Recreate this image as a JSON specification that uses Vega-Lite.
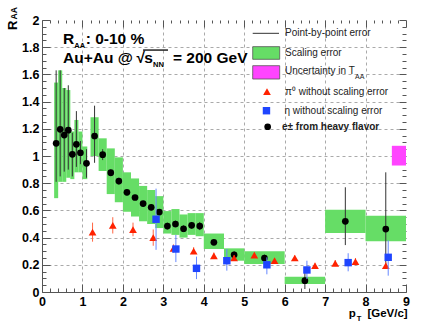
{
  "$schema": "https://vega.github.io/schema/vega-lite/v6.json",
  "width": 364,
  "height": 272,
  "autosize": {"type": "none"},
  "padding": {"left": 42, "top": 20, "right": 18, "bottom": 36},
  "background": "white",
  "config": {
    "font": "Liberation Sans",
    "view": {"stroke": null},
    "axis": {
      "labelFont": "Liberation Sans",
      "labelFontWeight": "bold",
      "labelFontSize": 12.5,
      "labelColor": "#000000",
      "domainColor": "#555555",
      "tickColor": "#555555",
      "gridColor": "#aaaaaa",
      "gridDash": [3, 3],
      "labelFlush": false,
      "labelOverlap": false,
      "labelBound": false
    }
  },
  "datasets": {
    "hf": [
      {"pt": 0.35, "raa": 1.093, "lo": 0.81, "hi": 1.63, "x0": 0.3, "x1": 0.4, "blo": 0.69, "bhi": 1.54},
      {"pt": 0.45, "raa": 1.196, "lo": 0.85, "hi": 1.63, "x0": 0.4, "x1": 0.5, "blo": 0.81, "bhi": 1.63},
      {"pt": 0.55, "raa": 1.154, "lo": 0.885, "hi": 1.5, "x0": 0.5, "x1": 0.6, "blo": 0.81, "bhi": 1.5},
      {"pt": 0.65, "raa": 1.19, "lo": 0.9, "hi": 1.52, "x0": 0.6, "x1": 0.7, "blo": 0.84, "bhi": 1.485},
      {"pt": 0.75, "raa": 1.012, "lo": 0.85, "hi": 1.17, "x0": 0.7, "x1": 0.8, "blo": 0.83, "bhi": 1.18},
      {"pt": 0.85, "raa": 1.086, "lo": 0.92, "hi": 1.33, "x0": 0.8, "x1": 0.9, "blo": 0.88, "bhi": 1.265},
      {"pt": 0.95, "raa": 1.024, "lo": 0.94, "hi": 1.11, "x0": 0.9, "x1": 1.0, "blo": 0.88, "bhi": 1.18},
      {"pt": 1.1, "raa": 0.946, "lo": 0.84, "hi": 1.05, "x0": 1.0, "x1": 1.12, "blo": 0.83, "bhi": 1.07},
      {"pt": 1.3, "raa": 1.147, "lo": 0.95, "hi": 1.37, "x0": 1.2, "x1": 1.4, "blo": 1.0, "bhi": 1.285},
      {"pt": 1.5, "raa": 1.01, "lo": 0.97, "hi": 1.05, "x0": 1.4, "x1": 1.6, "blo": 0.89, "bhi": 1.13},
      {"pt": 1.7, "raa": 0.877, "lo": 0.85, "hi": 0.9, "x0": 1.6, "x1": 1.8, "blo": 0.72, "bhi": 1.056},
      {"pt": 1.9, "raa": 0.816, "lo": 0.79, "hi": 0.84, "x0": 1.8, "x1": 2.0, "blo": 0.66, "bhi": 0.99},
      {"pt": 2.1, "raa": 0.733, "lo": 0.71, "hi": 0.755, "x0": 2.0, "x1": 2.2, "blo": 0.59, "bhi": 0.88},
      {"pt": 2.3, "raa": 0.695, "lo": 0.675, "hi": 0.715, "x0": 2.2, "x1": 2.4, "blo": 0.555, "bhi": 0.835},
      {"pt": 2.5, "raa": 0.65, "lo": 0.63, "hi": 0.67, "x0": 2.4, "x1": 2.6, "blo": 0.52, "bhi": 0.78},
      {"pt": 2.7, "raa": 0.623, "lo": 0.6, "hi": 0.645, "x0": 2.6, "x1": 2.8, "blo": 0.5, "bhi": 0.75},
      {"pt": 2.9, "raa": 0.588, "lo": 0.565, "hi": 0.61, "x0": 2.8, "x1": 3.0, "blo": 0.47, "bhi": 0.705},
      {"pt": 3.1, "raa": 0.485, "lo": 0.46, "hi": 0.51, "x0": 3.0, "x1": 3.2, "blo": 0.43, "bhi": 0.595},
      {"pt": 3.3, "raa": 0.5, "lo": 0.475, "hi": 0.525, "x0": 3.2, "x1": 3.4, "blo": 0.42, "bhi": 0.61},
      {"pt": 3.5, "raa": 0.465, "lo": 0.44, "hi": 0.49, "x0": 3.4, "x1": 3.6, "blo": 0.4, "bhi": 0.57},
      {"pt": 3.7, "raa": 0.49, "lo": 0.465, "hi": 0.515, "x0": 3.6, "x1": 3.8, "blo": 0.42, "bhi": 0.58},
      {"pt": 3.9, "raa": 0.485, "lo": 0.455, "hi": 0.515, "x0": 3.8, "x1": 4.0, "blo": 0.41, "bhi": 0.58},
      {"pt": 4.25, "raa": 0.365, "lo": 0.345, "hi": 0.385, "x0": 4.0, "x1": 4.5, "blo": 0.316, "bhi": 0.43},
      {"pt": 4.75, "raa": 0.274, "lo": 0.25, "hi": 0.3, "x0": 4.5, "x1": 5.0, "blo": 0.23, "bhi": 0.321},
      {"pt": 5.5, "raa": 0.25, "lo": 0.225, "hi": 0.275, "x0": 5.0, "x1": 6.0, "blo": 0.206, "bhi": 0.3},
      {"pt": 6.5, "raa": 0.083, "lo": 0.022, "hi": 0.169, "x0": 6.0, "x1": 7.0, "blo": 0.059, "bhi": 0.113},
      {"pt": 7.5, "raa": 0.52, "lo": 0.345, "hi": 0.77, "x0": 7.0, "x1": 8.0, "blo": 0.434, "bhi": 0.605},
      {"pt": 8.5, "raa": 0.463, "lo": 0.18, "hi": 0.88, "x0": 8.0, "x1": 9.0, "blo": 0.373, "bhi": 0.561}
    ],
    "pi0": [
      {"pt": 1.25, "raa": 0.44, "lo": 0.37, "hi": 0.51},
      {"pt": 1.75, "raa": 0.49, "lo": 0.43, "hi": 0.55},
      {"pt": 2.25, "raa": 0.458, "lo": 0.41, "hi": 0.51},
      {"pt": 2.75, "raa": 0.4, "lo": 0.34, "hi": 0.46},
      {"pt": 3.25, "raa": 0.32, "lo": 0.29, "hi": 0.35},
      {"pt": 3.75, "raa": 0.3, "lo": 0.28, "hi": 0.33},
      {"pt": 4.25, "raa": 0.266, "lo": 0.245, "hi": 0.29},
      {"pt": 4.75, "raa": 0.25, "lo": 0.23, "hi": 0.27},
      {"pt": 5.25, "raa": 0.271, "lo": 0.25, "hi": 0.29},
      {"pt": 5.75, "raa": 0.23, "lo": 0.21, "hi": 0.25},
      {"pt": 6.25, "raa": 0.25, "lo": 0.23, "hi": 0.27},
      {"pt": 6.75, "raa": 0.193, "lo": 0.17, "hi": 0.215},
      {"pt": 7.25, "raa": 0.211, "lo": 0.19, "hi": 0.235},
      {"pt": 7.75, "raa": 0.223, "lo": 0.195, "hi": 0.25},
      {"pt": 8.5, "raa": 0.193, "lo": 0.17, "hi": 0.22}
    ],
    "eta": [
      {"pt": 2.82, "raa": 0.535, "lo": 0.31, "hi": 0.76},
      {"pt": 3.31, "raa": 0.316, "lo": 0.22, "hi": 0.42},
      {"pt": 3.82, "raa": 0.174, "lo": 0.095, "hi": 0.26},
      {"pt": 4.57, "raa": 0.23, "lo": 0.157, "hi": 0.316},
      {"pt": 5.56, "raa": 0.2, "lo": 0.13, "hi": 0.255},
      {"pt": 6.55, "raa": 0.162, "lo": 0.095, "hi": 0.23},
      {"pt": 7.57, "raa": 0.216, "lo": 0.152, "hi": 0.285},
      {"pt": 8.56, "raa": 0.255, "lo": 0.12, "hi": 0.38}
    ]
  },
  "layer": [
    {
      "data": {"name": "hf"},
      "mark": {"type": "rect", "color": "#66dd66"},
      "encoding": {
        "x": {"field": "x0", "type": "quantitative", "scale": {"domain": [0, 9]},
          "axis": {
            "orient": "bottom", "title": null,
            "values": [0,0.2,0.4,0.6,0.8,1,1.2,1.4,1.6,1.8,2,2.2,2.4,2.6,2.8,3,3.2,3.4,3.6,3.8,4,4.2,4.4,4.6,4.8,5,5.2,5.4,5.6,5.8,6,6.2,6.4,6.6,6.8,7,7.2,7.4,7.6,7.8,8,8.2,8.4,8.6,8.8,9],
            "tickSize": {"condition": {"test": "abs(datum.value - round(datum.value)) < 0.001", "value": -8}, "value": -4},
            "labelPadding": 11,
            "labelExpr": "abs(datum.value - round(datum.value)) < 0.001 ? format(datum.value, 'd') : ''",
            "grid": true,
            "gridOpacity": {"condition": {"test": "abs(datum.value - round(datum.value)) < 0.001 && datum.value > 0.5 && datum.value < 8.5", "value": 1}, "value": 0}
          }
        },
        "x2": {"field": "x1"},
        "y": {"field": "blo", "type": "quantitative", "scale": {"domain": [0, 2]},
          "axis": {
            "orient": "left", "title": null,
            "values": [0,0.05,0.1,0.15,0.2,0.25,0.3,0.35,0.4,0.45,0.5,0.55,0.6,0.65,0.7,0.75,0.8,0.85,0.9,0.95,1,1.05,1.1,1.15,1.2,1.25,1.3,1.35,1.4,1.45,1.5,1.55,1.6,1.65,1.7,1.75,1.8,1.85,1.9,1.95,2],
            "tickSize": {"condition": {"test": "abs(datum.value * 5 - round(datum.value * 5)) < 0.001", "value": -8}, "value": -4},
            "labelPadding": 11,
            "labelExpr": "abs(datum.value * 5 - round(datum.value * 5)) < 0.001 ? format(datum.value, '~g') : ''",
            "grid": true,
            "gridOpacity": {"condition": {"test": "abs(datum.value * 5 - round(datum.value * 5)) < 0.001 && datum.value > 0.1 && datum.value < 1.9", "value": 1}, "value": 0}
          }
        },
        "y2": {"field": "bhi"}
      }
    },
    {
      "data": {"values": [{"x0": 8.65, "x1": 9.0, "y0": 0.93, "y1": 1.075}]},
      "mark": {"type": "rect", "color": "#ff44ff"},
      "encoding": {
        "x": {"field": "x0", "type": "quantitative", "scale": {"domain": [0, 9]},
          "axis": {
            "orient": "top", "title": null, "labels": false, "domain": false, "grid": false,
            "values": [0,0.2,0.4,0.6,0.8,1,1.2,1.4,1.6,1.8,2,2.2,2.4,2.6,2.8,3,3.2,3.4,3.6,3.8,4,4.2,4.4,4.6,4.8,5,5.2,5.4,5.6,5.8,6,6.2,6.4,6.6,6.8,7,7.2,7.4,7.6,7.8,8,8.2,8.4,8.6,8.8,9],
            "tickSize": {"condition": {"test": "abs(datum.value - round(datum.value)) < 0.001", "value": -7}, "value": -3}
          }
        },
        "x2": {"field": "x1"},
        "y": {"field": "y0", "type": "quantitative", "scale": {"domain": [0, 2]},
          "axis": {
            "orient": "right", "title": null, "labels": false, "domain": false, "grid": false,
            "values": [0,0.05,0.1,0.15,0.2,0.25,0.3,0.35,0.4,0.45,0.5,0.55,0.6,0.65,0.7,0.75,0.8,0.85,0.9,0.95,1,1.05,1.1,1.15,1.2,1.25,1.3,1.35,1.4,1.45,1.5,1.55,1.6,1.65,1.7,1.75,1.8,1.85,1.9,1.95,2],
            "tickSize": {"condition": {"test": "abs(datum.value * 5 - round(datum.value * 5)) < 0.001", "value": -7}, "value": -4}
          }
        },
        "y2": {"field": "y1"}
      }
    },
    {
      "data": {"values": [
        {"item": "Scaling error", "x0": 5.21, "x1": 5.877, "y0": 1.711, "y1": 1.804},
        {"item": "Uncertainty in TAA", "x0": 5.21, "x1": 5.877, "y0": 1.566, "y1": 1.664}
      ]},
      "mark": {"type": "rect", "stroke": "#555555", "strokeWidth": 0.8},
      "encoding": {
        "x": {"field": "x0", "type": "quantitative", "scale": {"domain": [0, 9]}, "axis": null},
        "x2": {"field": "x1"},
        "y": {"field": "y0", "type": "quantitative", "scale": {"domain": [0, 2]}, "axis": null},
        "y2": {"field": "y1"},
        "fill": {"field": "item", "type": "nominal", "scale": {"domain": ["Scaling error", "Uncertainty in TAA"], "range": ["#66dd66", "#ff44ff"]}, "legend": null}
      }
    },
    {
      "data": {"name": "hf"},
      "mark": {"type": "rule", "color": "#333333", "strokeWidth": 1},
      "encoding": {
        "x": {"field": "pt", "type": "quantitative", "scale": {"domain": [0, 9]}, "axis": null},
        "y": {"field": "lo", "type": "quantitative", "scale": {"domain": [0, 2]}, "axis": null},
        "y2": {"field": "hi"}
      }
    },
    {
      "data": {"name": "hf"},
      "mark": {"type": "point", "shape": "circle", "filled": true, "color": "#000000", "size": 45, "opacity": 1},
      "encoding": {
        "x": {"field": "pt", "type": "quantitative", "scale": {"domain": [0, 9]}, "axis": null},
        "y": {"field": "raa", "type": "quantitative", "scale": {"domain": [0, 2]}, "axis": null}
      }
    },
    {
      "data": {"name": "pi0"},
      "mark": {"type": "rule", "color": "#ff6644", "strokeWidth": 1},
      "encoding": {
        "x": {"field": "pt", "type": "quantitative", "scale": {"domain": [0, 9]}, "axis": null},
        "y": {"field": "lo", "type": "quantitative", "scale": {"domain": [0, 2]}, "axis": null},
        "y2": {"field": "hi"}
      }
    },
    {
      "data": {"name": "pi0"},
      "mark": {"type": "point", "shape": "triangle-up", "filled": true, "color": "#ff2200", "size": 60, "opacity": 1},
      "encoding": {
        "x": {"field": "pt", "type": "quantitative", "scale": {"domain": [0, 9]}, "axis": null},
        "y": {"field": "raa", "type": "quantitative", "scale": {"domain": [0, 2]}, "axis": null}
      }
    },
    {
      "data": {"name": "eta"},
      "mark": {"type": "rule", "color": "#6688ff", "strokeWidth": 1},
      "encoding": {
        "x": {"field": "pt", "type": "quantitative", "scale": {"domain": [0, 9]}, "axis": null},
        "y": {"field": "lo", "type": "quantitative", "scale": {"domain": [0, 2]}, "axis": null},
        "y2": {"field": "hi"}
      }
    },
    {
      "data": {"name": "eta"},
      "mark": {"type": "point", "shape": "square", "filled": true, "color": "#1f45ff", "size": 55, "opacity": 1},
      "encoding": {
        "x": {"field": "pt", "type": "quantitative", "scale": {"domain": [0, 9]}, "axis": null},
        "y": {"field": "raa", "type": "quantitative", "scale": {"domain": [0, 2]}, "axis": null}
      }
    },
    {
      "data": {"values": [{"x0": 5.21, "x1": 5.86, "y": 1.902}]},
      "mark": {"type": "rule", "color": "#333333", "strokeWidth": 1},
      "encoding": {
        "x": {"field": "x0", "type": "quantitative", "scale": {"domain": [0, 9]}, "axis": null},
        "x2": {"field": "x1"},
        "y": {"field": "y", "type": "quantitative", "scale": {"domain": [0, 2]}, "axis": null}
      }
    },
    {
      "data": {"values": [{"x": 5.563, "y": 1.473}]},
      "mark": {"type": "point", "shape": "triangle-up", "filled": true, "color": "#ff2200", "size": 60, "opacity": 1},
      "encoding": {
        "x": {"field": "x", "type": "quantitative", "scale": {"domain": [0, 9]}, "axis": null},
        "y": {"field": "y", "type": "quantitative", "scale": {"domain": [0, 2]}, "axis": null}
      }
    },
    {
      "data": {"values": [{"x": 5.55, "y": 1.333}]},
      "mark": {"type": "point", "shape": "square", "filled": true, "color": "#1f45ff", "size": 55, "opacity": 1},
      "encoding": {
        "x": {"field": "x", "type": "quantitative", "scale": {"domain": [0, 9]}, "axis": null},
        "y": {"field": "y", "type": "quantitative", "scale": {"domain": [0, 2]}, "axis": null}
      }
    },
    {
      "data": {"values": [{"x": 5.58, "y": 1.215}]},
      "mark": {"type": "point", "shape": "circle", "filled": true, "color": "#000000", "size": 45, "opacity": 1},
      "encoding": {
        "x": {"field": "x", "type": "quantitative", "scale": {"domain": [0, 9]}, "axis": null},
        "y": {"field": "y", "type": "quantitative", "scale": {"domain": [0, 2]}, "axis": null}
      }
    },
    {
      "data": {"values": [
        {"x": 6.008, "y": 1.902, "t": "Point-by-point error"},
        {"x": 6.008, "y": 1.76, "t": "Scaling error"},
        {"x": 6.008, "y": 1.627, "t": "Uncertainty in T"},
        {"x": 6.008, "y": 1.473, "t": "π⁰ without scaling error"},
        {"x": 5.995, "y": 1.333, "t": "η without scaling error"}
      ]},
      "mark": {"type": "text", "font": "Liberation Sans", "fontSize": 10, "align": "left", "baseline": "middle", "color": "#222222"},
      "encoding": {
        "x": {"field": "x", "type": "quantitative", "scale": {"domain": [0, 9]}, "axis": null},
        "y": {"field": "y", "type": "quantitative", "scale": {"domain": [0, 2]}, "axis": null},
        "text": {"field": "t"}
      }
    },
    {
      "data": {"values": [{"x": 5.934, "y": 1.215, "t": "e± from heavy flavor"}]},
      "mark": {"type": "text", "font": "Liberation Sans", "fontSize": 10, "fontWeight": "bold", "align": "left", "baseline": "middle", "color": "#222222"},
      "encoding": {
        "x": {"field": "x", "type": "quantitative", "scale": {"domain": [0, 9]}, "axis": null},
        "y": {"field": "y", "type": "quantitative", "scale": {"domain": [0, 2]}, "axis": null},
        "text": {"field": "t"}
      }
    },
    {
      "data": {"values": [{"x": 7.739, "y": 1.579, "t": "AA"}]},
      "mark": {"type": "text", "font": "Liberation Sans", "fontSize": 7, "align": "left", "baseline": "middle", "color": "#222222"},
      "encoding": {
        "x": {"field": "x", "type": "quantitative", "scale": {"domain": [0, 9]}, "axis": null},
        "y": {"field": "y", "type": "quantitative", "scale": {"domain": [0, 2]}, "axis": null},
        "text": {"field": "t"}
      }
    },
    {
      "data": {"values": [
        {"x": 0.519, "y": 1.821, "t": "R"},
        {"x": 1.08, "y": 1.821, "t": ": 0-10 %"},
        {"x": 0.519, "y": 1.682, "t": "Au+Au @"},
        {"x": 2.335, "y": 1.682, "t": "√"},
        {"x": 2.53, "y": 1.682, "t": "s"},
        {"x": 3.239, "y": 1.682, "t": "= 200 GeV"}
      ]},
      "mark": {"type": "text", "font": "Liberation Sans", "fontSize": 15.5, "fontWeight": "bold", "align": "left", "baseline": "alphabetic", "color": "#000000"},
      "encoding": {
        "x": {"field": "x", "type": "quantitative", "scale": {"domain": [0, 9]}, "axis": null},
        "y": {"field": "y", "type": "quantitative", "scale": {"domain": [0, 2]}, "axis": null},
        "text": {"field": "t"}
      }
    },
    {
      "data": {"values": [
        {"x": 0.8, "y": 1.796, "t": "AA"},
        {"x": 2.745, "y": 1.654, "t": "NN"}
      ]},
      "mark": {"type": "text", "font": "Liberation Sans", "fontSize": 7.5, "fontWeight": "bold", "align": "left", "baseline": "alphabetic", "color": "#000000"},
      "encoding": {
        "x": {"field": "x", "type": "quantitative", "scale": {"domain": [0, 9]}, "axis": null},
        "y": {"field": "y", "type": "quantitative", "scale": {"domain": [0, 2]}, "axis": null},
        "text": {"field": "t"}
      }
    },
    {
      "data": {"values": [{"x0": 2.5, "x1": 3.115, "y": 1.779}]},
      "mark": {"type": "rule", "color": "#000000", "strokeWidth": 1.3},
      "encoding": {
        "x": {"field": "x0", "type": "quantitative", "scale": {"domain": [0, 9]}, "axis": null},
        "x2": {"field": "x1"},
        "y": {"field": "y", "type": "quantitative", "scale": {"domain": [0, 2]}, "axis": null}
      }
    },
    {
      "data": {"values": [
        {"x": 7.584, "y": -0.182, "t": "p"},
        {"x": 8.045, "y": -0.182, "t": "[GeV/c]"}
      ]},
      "mark": {"type": "text", "font": "Liberation Sans", "fontSize": 11.5, "fontWeight": "bold", "align": "left", "baseline": "alphabetic", "color": "#000000"},
      "encoding": {
        "x": {"field": "x", "type": "quantitative", "scale": {"domain": [0, 9]}, "axis": null},
        "y": {"field": "y", "type": "quantitative", "scale": {"domain": [0, 2]}, "axis": null},
        "text": {"field": "t"}
      }
    },
    {
      "data": {"values": [{"x": 7.78, "y": -0.212, "t": "T"}]},
      "mark": {"type": "text", "font": "Liberation Sans", "fontSize": 7.5, "fontWeight": "bold", "align": "left", "baseline": "alphabetic", "color": "#000000"},
      "encoding": {
        "x": {"field": "x", "type": "quantitative", "scale": {"domain": [0, 9]}, "axis": null},
        "y": {"field": "y", "type": "quantitative", "scale": {"domain": [0, 2]}, "axis": null},
        "text": {"field": "t"}
      }
    },
    {
      "data": {"values": [{"x": -0.618, "y": 1.926, "t": "R"}]},
      "mark": {"type": "text", "font": "Liberation Sans", "fontSize": 13, "fontWeight": "bold", "align": "left", "baseline": "alphabetic", "angle": 270, "color": "#000000"},
      "encoding": {
        "x": {"field": "x", "type": "quantitative", "scale": {"domain": [0, 9]}, "axis": null},
        "y": {"field": "y", "type": "quantitative", "scale": {"domain": [0, 2]}, "axis": null},
        "text": {"field": "t"}
      }
    },
    {
      "data": {"values": [{"x": -0.63, "y": 2.004, "t": "AA"}]},
      "mark": {"type": "text", "font": "Liberation Sans", "fontSize": 8.5, "fontWeight": "bold", "align": "left", "baseline": "alphabetic", "angle": 270, "color": "#000000"},
      "encoding": {
        "x": {"field": "x", "type": "quantitative", "scale": {"domain": [0, 9]}, "axis": null},
        "y": {"field": "y", "type": "quantitative", "scale": {"domain": [0, 2]}, "axis": null},
        "text": {"field": "t"}
      }
    }
  ],
  "resolve": {"axis": {"x": "independent", "y": "independent"}}
}
